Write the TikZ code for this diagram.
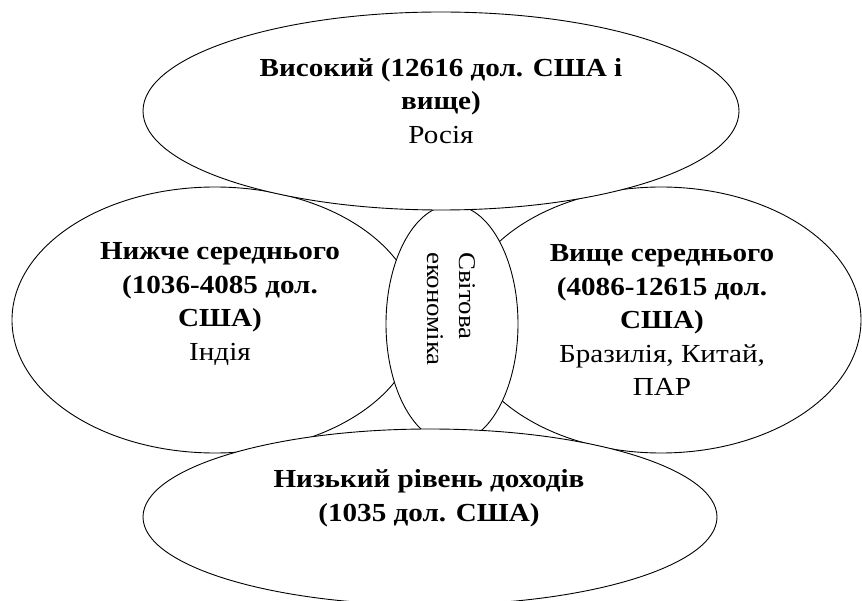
\documentclass[tikz,border=0pt]{standalone}
\usepackage{fontspec}
\setmainfont{Liberation Serif}[FakeStretch=1.12]
\begin{document}
\begin{tikzpicture}[x=1pt,y=-1pt,
  oval/.style={draw=black,line width=0.9pt,fill=white},
  lbl/.style={align=center,inner sep=0pt,font=\fontsize{26}{33.5}\selectfont},
  vlbl/.style={align=left,inner sep=0pt,rotate=-90,font=\fontsize{24}{32}\selectfont},
]
\useasboundingbox (0,0) rectangle (862,601);
% ellipses
\draw[oval] (215,320) ellipse [x radius=203,y radius=133];
\draw[oval] (661,320) ellipse [x radius=200,y radius=133];
\draw[oval] (452,324) ellipse [x radius=66,y radius=119];
\draw[oval] (441,111) ellipse [x radius=298,y radius=99];
\draw[oval] (430,517) ellipse [x radius=287,y radius=88];
% texts
\node[lbl] (top) at (441,101) {\textbf{Високий (12616 дол. США і}\\\textbf{вище)}\\Росія};
\node[lbl] (left) at (220,304) {\textbf{Нижче середнього}\\\textbf{(1036-4085 дол.}\\\textbf{США)}\\Індія};
\node[lbl] (right) at (662,320) {\textbf{Вище середнього}\\\textbf{(4086-12615 дол.}\\\textbf{США)}\\Бразилія, Китай,\\ПАР};
\node[lbl] (bottom) at (429,498) {\textbf{Низький рівень доходів}\\\textbf{(1035 дол. США)}};
\node[vlbl] (center) at (451,309) {Світова\\економіка};
\end{tikzpicture}
\end{document}
